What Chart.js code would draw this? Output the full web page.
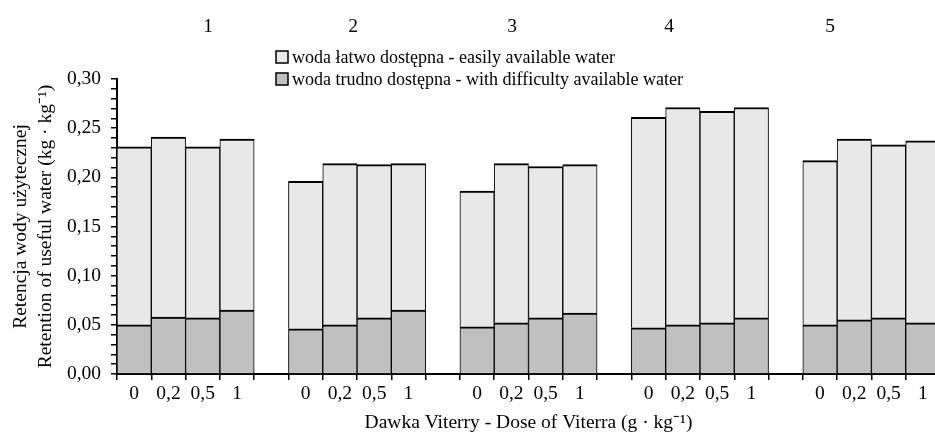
<!DOCTYPE html>
<html>
<head>
<meta charset="utf-8">
<script src="https://cdn.jsdelivr.net/npm/chart.js@4"></script>
<style>
  html, body { margin: 0; padding: 0; background: #fff; overflow: hidden; }
  #wrap { width: 940px; height: 439px; }
</style>
</head>
<body>
<div id="wrap"><canvas id="chart" width="940" height="439"></canvas></div>
<script>
// doses repeated per soil group, '' = gap between groups
const doseLabels = ['0', '0,2', '0,5', '1'];
const groupNames = ['1', '2', '3', '4', '5'];

// water held with difficulty (bottom part), kg/kg
const hardWater = [
  0.050, 0.058, 0.057, 0.065, null,
  0.046, 0.050, 0.057, 0.065, null,
  0.048, 0.052, 0.057, 0.062, null,
  0.047, 0.050, 0.052, 0.057, null,
  0.050, 0.055, 0.057, 0.052
];
// easily available water (upper part), kg/kg
const easyWater = [
  0.181, 0.183, 0.174, 0.174, null,
  0.150, 0.164, 0.156, 0.149, null,
  0.138, 0.162, 0.154, 0.151, null,
  0.214, 0.221, 0.215, 0.214, null,
  0.167, 0.184, 0.176, 0.185
];

const labels = [];
groupNames.forEach((g, i) => {
  doseLabels.forEach(d => labels.push(d));
  if (i < groupNames.length - 1) labels.push('');
});

const serif = "'Liberation Serif', 'Times New Roman', serif";
Chart.defaults.font.family = serif;
Chart.defaults.font.size = 19.5;
Chart.defaults.color = '#000';

// group numbers above the plot and the stacked legend
const decorations = {
  id: 'decorations',
  afterDraw(chart) {
    const ctx = chart.ctx;
    ctx.save();
    ctx.fillStyle = '#000';
    ctx.textBaseline = 'middle';
    ctx.textAlign = 'center';
    ctx.font = '19.5px ' + serif;
    const gx = [208, 353, 512, 669, 830];
    groupNames.forEach((g, i) => ctx.fillText(g, gx[i], 27));

    ctx.textAlign = 'left';
    ctx.font = '18px ' + serif;
    const items = [chart.data.datasets[1], chart.data.datasets[0]];
    items.forEach((ds, i) => {
      const y = 57 + i * 22;
      ctx.fillStyle = ds.backgroundColor;
      ctx.fillRect(276, y - 6, 12, 12);
      ctx.strokeStyle = '#000';
      ctx.lineWidth = 1.5;
      ctx.strokeRect(276, y - 6, 12, 12);
      ctx.fillStyle = '#000';
      ctx.fillText(ds.label, 292, y + 1);
    });
    ctx.restore();
  }
};

new Chart(document.getElementById('chart'), {
  type: 'bar',
  data: {
    labels: labels,
    datasets: [
      {
        label: 'woda trudno dostępna - with difficulty available water',
        data: hardWater,
        backgroundColor: '#c0c0c0',
        borderColor: '#000',
        borderWidth: { top: 2, left: 1, right: 1, bottom: 0 },
        categoryPercentage: 1,
        barPercentage: 1
      },
      {
        label: 'woda łatwo dostępna - easily available water',
        data: easyWater,
        backgroundColor: '#e8e8e8',
        borderColor: '#000',
        borderWidth: { top: 2, left: 1, right: 1, bottom: 0 },
        categoryPercentage: 1,
        barPercentage: 1
      }
    ]
  },
  options: {
    responsive: false,
    animation: false,
    layout: { padding: { top: 79, left: 0, right: 0, bottom: 0 } },
    plugins: {
      legend: { display: false },
      tooltip: { enabled: false }
    },
    scales: {
      x: {
        stacked: true,
        afterFit: scale => { scale.height = 65; },
        border: { color: '#000', width: 2 },
        grid: { drawOnChartArea: false, color: '#000', tickLength: 6, lineWidth: 1.5 },
        ticks: { autoSkip: false, maxRotation: 0, padding: 2 },
        title: {
          display: true,
          text: 'Dawka Viterry - Dose of Viterra (g · kg⁻¹)',
          font: { size: 19.5, lineHeight: 1.2 },
          padding: { top: 0, bottom: 4 }
        }
      },
      y: {
        stacked: true,
        min: 0,
        max: 0.3,
        afterFit: scale => { scale.width = 117; },
        border: { color: '#000', width: 2 },
        grid: { drawOnChartArea: false, color: '#000', tickLength: 6, lineWidth: 1.5 },
        ticks: {
          stepSize: 0.01,
          maxTicksLimit: 40,
          autoSkip: false,
          padding: 10,
          callback: value => {
            const v = Math.round(value * 100);
            return v % 5 === 0 ? (v / 100).toFixed(2).replace('.', ',') : '';
          }
        },
        title: {
          display: true,
          text: ['Retencja wody użytecznej', 'Retention of useful water (kg · kg⁻¹)'],
          font: { size: 19.5, lineHeight: 1.25 },
          padding: { top: 9, bottom: 0 }
        }
      }
    }
  },
  plugins: [decorations]
});
</script>
</body>
</html>
